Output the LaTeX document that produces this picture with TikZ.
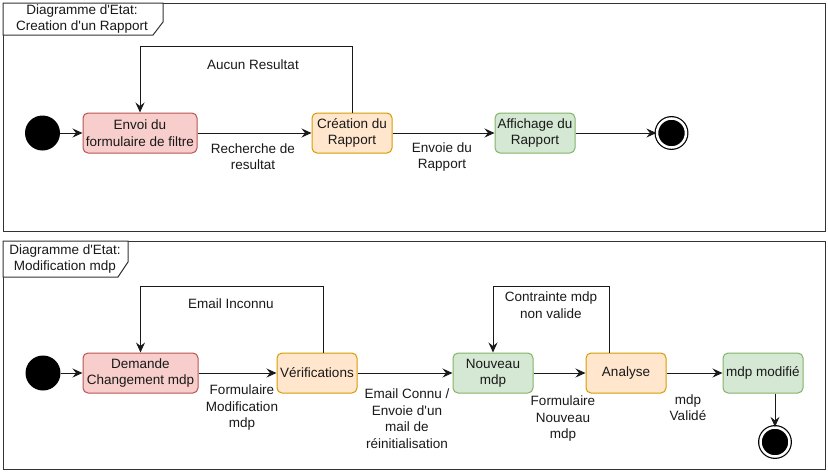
\documentclass[tikz,border=0pt]{standalone}
\usepackage{fontspec}
\setmainfont{Liberation Sans}[Ligatures=TeXOff]
\usetikzlibrary{arrows.meta}
\definecolor{redfill}{HTML}{F8CECC}
\definecolor{reddraw}{HTML}{B85450}
\definecolor{orafill}{HTML}{FFE6CC}
\definecolor{oradraw}{HTML}{D79B00}
\definecolor{grnfill}{HTML}{D5E8D4}
\definecolor{grndraw}{HTML}{82B366}
\definecolor{framecol}{HTML}{333333}
\begin{document}
\begin{tikzpicture}[x=1pt,y=-1pt,
  txt/.style={font=\fontsize{13.5}{16.5}\selectfont, align=center, text=black!90, inner sep=0pt},
  state/.style={txt, draw, rounded corners=5pt, minimum width=80pt, minimum height=40pt, line width=1pt},
  redstate/.style={state, fill=redfill, draw=reddraw},
  orastate/.style={state, fill=orafill, draw=oradraw},
  grnstate/.style={state, fill=grnfill, draw=grndraw},
  initst/.style={circle, fill=black, minimum size=35pt, inner sep=0pt},
  finalst/.style={circle, draw=black, line width=1.2pt, fill=black, double=white, double distance=2.5pt, minimum size=29pt, inner sep=0pt},
  edge/.style={line width=1pt, draw=black!90, -{Stealth[length=10pt,width=9pt,inset=3.5pt]}},
  frameline/.style={draw=framecol, line width=1pt},
  lbl/.style={txt}
]
\useasboundingbox (0,0) rectangle (828,472);

% ---------- Frame 1 ----------
\draw[frameline] (3,3) rectangle (825,231);
\draw[frameline, fill=white] (3,3) -- (163,3) -- (163,22) -- (153,35) -- (3,35) -- cycle;
\node[txt] (t1) at (82,19) {Diagramme d'Etat:\\Creation d'un Rapport};

\node[initst] (i1) at (42.5,133) {};
\node[redstate, minimum width=114pt] (envoi) at (140,133) {Envoi du\\formulaire de filtre};
\node[orastate] (creation) at (352,133) {Création du\\Rapport};
\node[grnstate] (affich) at (535,133) {Affichage du\\Rapport};
\node[finalst] (f1) at (671.5,133) {};

\draw[edge] (i1) -- (envoi);
\draw[edge] (envoi) -- (creation);
\draw[edge] (creation) -- (affich);
\draw[edge] (affich) -- (f1);
\draw[edge] (creation.north) -- ++(0,-66) -| (envoi.north);

\node[lbl] (l1) at (253,65) {Aucun Resultat};
\node[lbl] (l2) at (253,156.5) {Recherche de\\resultat};
\node[lbl] (l3) at (442,157) {Envoie du\\Rapport};

% ---------- Frame 2 ----------
\draw[frameline] (3,241) rectangle (825,469);
\draw[frameline, fill=white] (3,241) -- (128,241) -- (128,262) -- (118,277) -- (3,277) -- cycle;
\node[txt] (t2) at (65,259) {Diagramme d'Etat:\\Modification mdp};

\node[initst] (i2) at (43,373) {};
\node[redstate, minimum width=115pt] (demande) at (140.5,373) {Demande\\Changement mdp};
\node[orastate] (verif) at (317,373) {Vérifications};
\node[grnstate] (nouveau) at (493,373) {Nouveau\\mdp};
\node[orastate] (analyse) at (626,373) {Analyse};
\node[grnstate] (modif) at (763,373) {mdp modifié};
\node[finalst] (f2) at (775,442) {};

\draw[edge] (i2) -- (demande);
\draw[edge] (demande) -- (verif);
\draw[edge] ([xshift=6pt]verif.north) -- ++(0,-66) -| (demande.north);
\draw[edge] (verif) -- (nouveau);
\draw[edge] (nouveau) -- (analyse);
\draw[edge] ([xshift=-17pt]analyse.north) -- ++(0,-66) -| (nouveau.north);
\draw[edge] (analyse) -- (modif);
\draw[edge] (modif.south -| f2) -- (f2);

\node[lbl] (l4) at (231,304) {Email Inconnu};
\node[lbl] (l5) at (242,408) {Formulaire\\Modification\\mdp};
\node[lbl] (l6) at (407,418.5) {Email Connu /\\Envoie d'un\\mail de\\réinitialisation};
\node[lbl] (l7) at (551,305) {Contrainte mdp\\non valide};
\node[lbl] (l8) at (563,419) {Formulaire\\Nouveau\\mdp};
\node[lbl] (l9) at (688,407.5) {mdp\\Validé};
\end{tikzpicture}
\end{document}
